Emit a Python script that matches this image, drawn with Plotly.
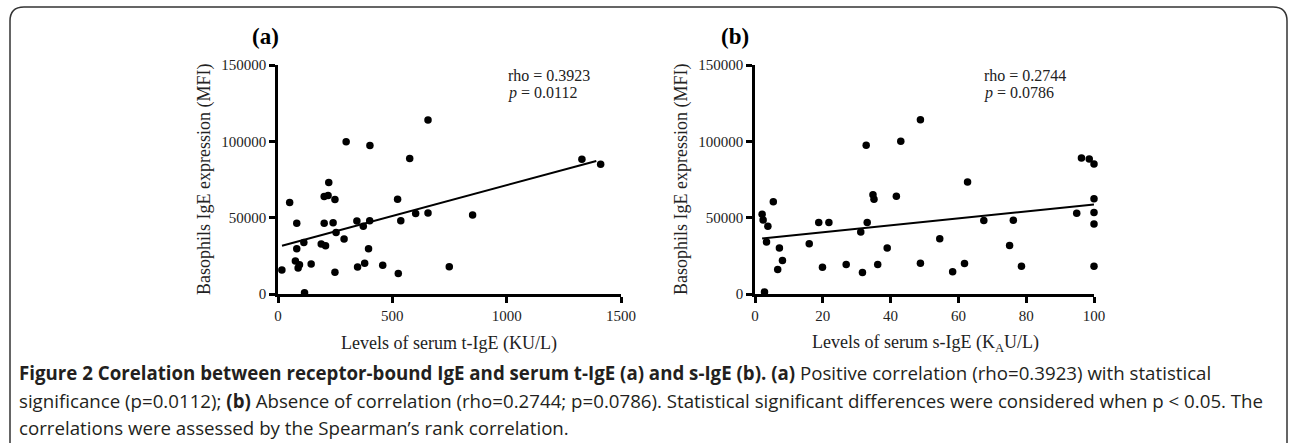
import plotly.graph_objects as go

# ---------------- data ----------------
a_x = [17, 51, 82, 82, 76, 88, 94, 113, 116, 145, 189, 202, 219, 222, 202, 208,
       249, 241, 254, 249, 289, 298, 345, 348, 373, 379, 396, 402, 401, 458,
       523, 526, 537, 576, 602, 656, 656, 749, 851, 1329, 1411]
a_y = [15700, 60000, 46400, 29700, 21600, 17000, 19200, 33800, 900, 19600, 32700,
       63900, 64500, 73000, 46400, 31600, 61900, 46700, 40300, 14200, 36000, 99700,
       47800, 17700, 44300, 20100, 29700, 97300, 48000, 18800, 62100, 13500, 48000,
       88800, 52800, 114000, 53000, 17900, 51700, 88300, 85000]
a_fit_x = [17.5, 1392]
a_fit_y = [31600, 87100]

b_x = [2.1, 2.4, 3.8, 3.4, 2.8, 5.4, 7.2, 6.7, 8.1, 16.0, 18.8, 19.9, 21.8, 26.9,
       31.2, 31.7, 32.8, 33.1, 34.8, 35.1, 36.2, 39.0, 41.7, 43.0, 48.8, 48.8,
       54.5, 58.3, 61.8, 62.7, 67.5, 75.1, 76.2, 78.6, 94.9, 96.3, 98.6, 100,
       100, 100, 100, 100]
b_y = [52300, 48500, 44400, 34000, 1300, 60400, 30100, 16000, 22000, 32900, 46800,
       17600, 46800, 19300, 40600, 14100, 97500, 46800, 65000, 62100, 19300, 30100,
       64100, 100000, 114200, 20200, 36200, 14500, 20000, 73300, 48100, 31800, 48300,
       18200, 52900, 89100, 88500, 85200, 62400, 53400, 45900, 18200]
b_fit_x = [2.1, 100]
b_fit_y = [36400, 58600]

y_ticks = [0, 50000, 100000, 150000]
a_ticks = [0, 500, 1000, 1500]
b_ticks = [0, 20, 40, 60, 80, 100]

panel_titles = ["<b>(a)</b>", "<b>(b)</b>"]
stats_a = ["rho = 0.3923", "<i>p</i> = 0.0112"]
stats_b = ["rho = 0.2744", "<i>p</i> = 0.0786"]
x_titles = ["Levels of serum t-IgE (KU/L)", "Levels of serum s-IgE (K<sub>A</sub>U/L)"]
y_title = "Basophils IgE expression (MFI)"
caption = [
    "<b>Figure 2 Corelation between receptor-bound IgE and serum t-IgE (a) and s-IgE (b).</b> "
    "<b>(a)</b> Positive correlation (rho=0.3923) with statistical",
    "significance (p=0.0112); <b>(b)</b> Absence of correlation (rho=0.2744; p=0.0786). "
    "Statistical significant differences were considered when p &lt; 0.05. The",
    "correlations were assessed by the Spearman\u2019s rank correlation.",
]

# ---------------- layout helpers ----------------
W, H = 1290, 443
def px(x):
    return x / W
def py(y):
    return 1 - y / H

SERIF = "Liberation Serif"
fig = go.Figure()

for xs, ys, fx, fy, xa, ya in [(a_x, a_y, a_fit_x, a_fit_y, "x", "y"),
                               (b_x, b_y, b_fit_x, b_fit_y, "x2", "y2")]:
    fig.add_trace(go.Scatter(x=xs, y=ys, mode="markers", xaxis=xa, yaxis=ya,
                             marker=dict(color="black", size=7.5),
                             cliponaxis=False, showlegend=False, hoverinfo="skip"))
    fig.add_trace(go.Scatter(x=fx, y=fy, mode="lines", xaxis=xa, yaxis=ya,
                             line=dict(color="black", width=2),
                             cliponaxis=False, showlegend=False, hoverinfo="skip"))

axis_common = dict(showline=True, linecolor="black", linewidth=2.5, ticks="outside",
                   ticklen=6, tickwidth=2.5, tickcolor="black", showgrid=False,
                   zeroline=False, tickfont=dict(family=SERIF, size=15, color="#222"),
                   tickformat="d", mirror=False)

fig.update_layout(
    autosize=True, margin=dict(l=0, r=0, t=0, b=0, autoexpand=False),
    paper_bgcolor="white", plot_bgcolor="white",
    xaxis=dict(domain=[px(278), px(621)], range=[0, 1500], tickvals=a_ticks,
               anchor="y", **axis_common),
    yaxis=dict(domain=[py(294), py(65)], range=[0, 150000], tickvals=y_ticks,
               anchor="x", **axis_common),
    xaxis2=dict(domain=[px(755), px(1094)], range=[0, 100], tickvals=b_ticks,
                anchor="y2", **axis_common),
    yaxis2=dict(domain=[py(294), py(65)], range=[0, 150000], tickvals=y_ticks,
                anchor="x2", **axis_common),
)

ann = []
for t, cx in zip(panel_titles, [265, 735]):
    ann.append(dict(text=t, x=px(cx), y=py(37), xref="paper", yref="paper",
                    showarrow=False, font=dict(family=SERIF, size=23, color="black"),
                    xanchor="center", yanchor="middle"))
for lines, lx in [(stats_a, 506), (stats_b, 982)]:
    for i, line in enumerate(lines):
        ann.append(dict(text=line, x=px(lx), y=py(75 + 18 * i), xref="paper", yref="paper",
                        showarrow=False, font=dict(family=SERIF, size=16, color="#222"),
                        xanchor="left", yanchor="middle"))
for t, cx in zip(x_titles, [449, 925]):
    ann.append(dict(text=t, x=px(cx), y=py(343), xref="paper", yref="paper",
                    showarrow=False, font=dict(family=SERIF, size=18, color="#222"),
                    xanchor="center", yanchor="middle"))
for cx in [205, 682]:
    ann.append(dict(text=y_title, x=px(cx), y=py(180), xref="paper", yref="paper",
                    showarrow=False, textangle=-90,
                    font=dict(family=SERIF, size=18, color="#222"),
                    xanchor="center", yanchor="middle"))
for line, cy in zip(caption, [372, 400, 427]):
    ann.append(dict(text=line, x=px(17), y=py(cy), xref="paper", yref="paper",
                    showarrow=False, font=dict(family="Open Sans", size=18.7, color="#231f20"),
                    xanchor="left", yanchor="middle", align="left"))
fig.update_layout(annotations=ann)

r = 14
L, T, R, B = 10, 7, 1287, 445
path = (f"M {px(L)},{py(B)} L {px(L)},{py(T + r)} "
        f"Q {px(L)},{py(T)} {px(L + r)},{py(T)} "
        f"L {px(R - r)},{py(T)} Q {px(R)},{py(T)} {px(R)},{py(T + r)} "
        f"L {px(R)},{py(B)}")
fig.add_shape(type="path", path=path, xref="paper", yref="paper",
              line=dict(color="#333", width=1.5))

fig.write_html("out.html", config={"displayModeBar": False, "responsive": True},
               default_width="100%", default_height="100%")

with open("out.html", encoding="utf-8") as f:
    html = f.read()
html = html.replace(
    "<head>",
    "<head><style>html,body{margin:0;padding:0;width:100%;height:100%;overflow:hidden;}</style>",
    1)
with open("out.html", "w", encoding="utf-8") as f:
    f.write(html)
